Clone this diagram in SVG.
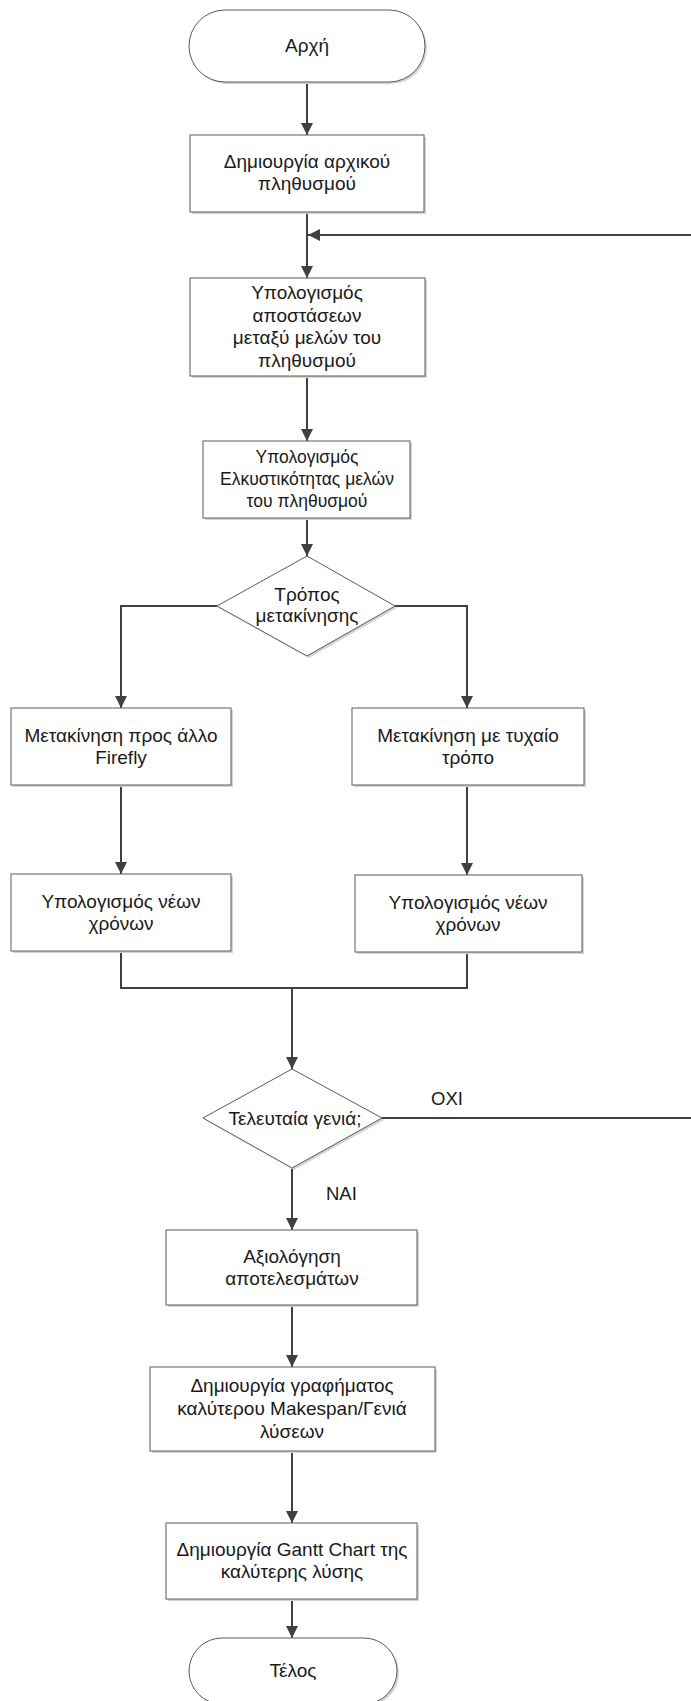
<svg xmlns="http://www.w3.org/2000/svg" width="691" height="1701" viewBox="0 0 691 1701">
<defs>
<marker id="arr" viewBox="0 0 12 12" refX="12" refY="6" markerWidth="12" markerHeight="12" markerUnits="userSpaceOnUse" orient="auto">
<path d="M0,0 L12,6 L0,12 Z" fill="#404040"/>
</marker>
</defs>
<style>
.shape{fill:#fff;stroke:#5a5a5a;stroke-width:1}
.shadow{fill:#d4d4d4;stroke:none}
.t{font-family:"Liberation Sans",Arial,sans-serif;font-size:19px;fill:#1a1a1a;text-anchor:middle}
.ts{font-size:17.5px}
.c{fill:none;stroke:#404040;stroke-width:2}
.lbl{font-family:"Liberation Sans",Arial,sans-serif;font-size:18.5px;fill:#1a1a1a}
</style>
<rect width="691" height="1701" fill="#fff"/>

<g id="connectors">
<path class="c" d="M307,82 V135" marker-end="url(#arr)"/>
<path class="c" d="M307,212 V278" marker-end="url(#arr)"/>
<path class="c" d="M691,235 H308" marker-end="url(#arr)"/>
<path class="c" d="M307,376 V441" marker-end="url(#arr)"/>
<path class="c" d="M307,518 V556" marker-end="url(#arr)"/>
<path class="c" d="M217,606 H121 V708" marker-end="url(#arr)"/>
<path class="c" d="M395,606 H467 V708" marker-end="url(#arr)"/>
<path class="c" d="M121,785 V874" marker-end="url(#arr)"/>
<path class="c" d="M467,785 V875" marker-end="url(#arr)"/>
<path class="c" d="M121,951 V988 H467 V952"/>
<path class="c" d="M292,988 V1069" marker-end="url(#arr)"/>
<path class="c" d="M382,1118 H691"/>
<path class="c" d="M292,1168 V1230" marker-end="url(#arr)"/>
<path class="c" d="M292,1305 V1367" marker-end="url(#arr)"/>
<path class="c" d="M292,1451 V1523" marker-end="url(#arr)"/>
<path class="c" d="M292,1599 V1638" marker-end="url(#arr)"/>
<text class="lbl" x="431" y="1105">OXI</text>
<text class="lbl" x="326" y="1200">NAI</text>
</g>

<g id="start">
<rect class="shadow" x="191" y="12" width="236" height="72" rx="36"/>
<rect class="shape" x="189" y="10" width="236" height="72" rx="36"/>
<text class="t" x="307" y="52">Αρχή</text>
</g>

<g id="init">
<rect class="shadow" x="192" y="137" width="234" height="77"/>
<rect class="shape" x="190" y="135" width="234" height="77"/>
<text class="t" x="307" y="168">Δημιουργία αρχικού</text>
<text class="t" x="307" y="190">πληθυσμού</text>
</g>

<g id="distances">
<rect class="shadow" x="192" y="280" width="235" height="98"/>
<rect class="shape" x="190" y="278" width="235" height="98"/>
<text class="t" x="307" y="299">Υπολογισμός</text>
<text class="t" x="307" y="322">αποστάσεων</text>
<text class="t" x="307" y="344">μεταξύ μελών του</text>
<text class="t" x="307" y="367">πληθυσμού</text>
</g>

<g id="attractiveness">
<rect class="shadow" x="205" y="443" width="207" height="77"/>
<rect class="shape" x="203" y="441" width="207" height="77"/>
<text class="t ts" x="307" y="463">Υπολογισμός</text>
<text class="t ts" x="307" y="485">Ελκυστικότητας μελών</text>
<text class="t ts" x="307" y="507">του πληθυσμού</text>
</g>

<g id="move-decision">
<polygon class="shadow" points="309,558 397,608 309,658 219,608"/>
<polygon class="shape" points="307,556 395,606 307,656 217,606"/>
<text class="t" x="307" y="601">Τρόπος</text>
<text class="t" x="307" y="622">μετακίνησης</text>
</g>

<g id="move-firefly">
<rect class="shadow" x="13" y="710" width="220" height="77"/>
<rect class="shape" x="11" y="708" width="220" height="77"/>
<text class="t" x="121" y="742">Μετακίνηση προς άλλο</text>
<text class="t" x="121" y="764">Firefly</text>
</g>

<g id="move-random">
<rect class="shadow" x="354" y="710" width="232" height="77"/>
<rect class="shape" x="352" y="708" width="232" height="77"/>
<text class="t" x="468" y="742">Μετακίνηση με τυχαίο</text>
<text class="t" x="468" y="764">τρόπο</text>
</g>

<g id="times-left">
<rect class="shadow" x="13" y="876" width="220" height="77"/>
<rect class="shape" x="11" y="874" width="220" height="77"/>
<text class="t" x="121" y="908">Υπολογισμός νέων</text>
<text class="t" x="121" y="930">χρόνων</text>
</g>

<g id="times-right">
<rect class="shadow" x="357" y="877" width="227" height="77"/>
<rect class="shape" x="355" y="875" width="227" height="77"/>
<text class="t" x="468" y="909">Υπολογισμός νέων</text>
<text class="t" x="468" y="931">χρόνων</text>
</g>

<g id="last-generation">
<polygon class="shadow" points="294,1071 384,1120 294,1170 205,1120"/>
<polygon class="shape" points="292,1069 382,1118 292,1168 203,1118"/>
<text class="t" x="295" y="1125">Τελευταία γενιά;</text>
</g>

<g id="evaluate">
<rect class="shadow" x="168" y="1232" width="251" height="75"/>
<rect class="shape" x="166" y="1230" width="251" height="75"/>
<text class="t" x="292" y="1263">Αξιολόγηση</text>
<text class="t" x="292" y="1285">αποτελεσμάτων</text>
</g>

<g id="graph">
<rect class="shadow" x="152" y="1369" width="285" height="84"/>
<rect class="shape" x="150" y="1367" width="285" height="84"/>
<text class="t" x="292" y="1392">Δημιουργία γραφήματος</text>
<text class="t" x="292" y="1415">καλύτερου Makespan/Γενιά</text>
<text class="t" x="292" y="1438">λύσεων</text>
</g>

<g id="gantt">
<rect class="shadow" x="168" y="1525" width="251" height="76"/>
<rect class="shape" x="166" y="1523" width="251" height="76"/>
<text class="t" x="292" y="1556">Δημιουργία Gantt Chart της</text>
<text class="t" x="292" y="1578">καλύτερης λύσης</text>
</g>

<g id="end">
<rect class="shadow" x="191" y="1640" width="208" height="66" rx="33"/>
<rect class="shape" x="189" y="1638" width="208" height="66" rx="33"/>
<text class="t" x="293" y="1677">Τέλος</text>
</g>
</svg>
